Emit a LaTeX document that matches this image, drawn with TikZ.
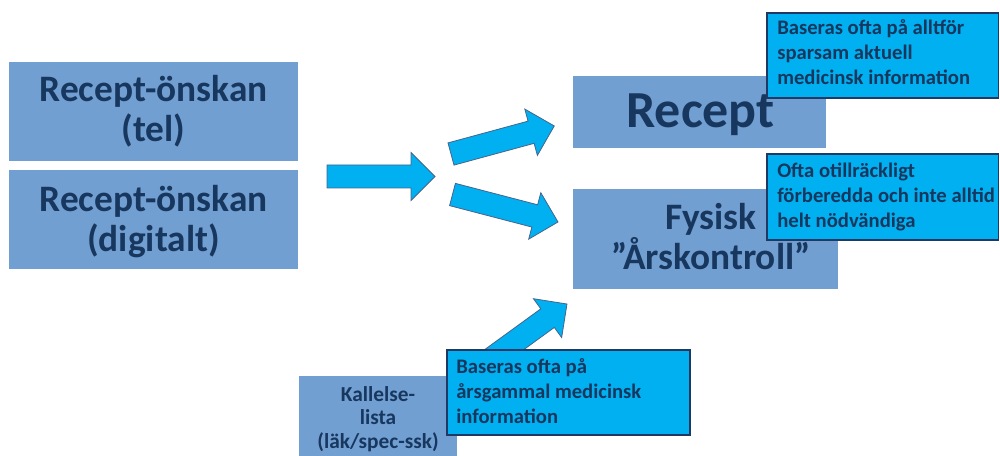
\documentclass[tikz,border=0pt]{standalone}
\usepackage{fontspec}
\setmainfont{Carlito}
\definecolor{boxblue}{RGB}{114,159,210}
\definecolor{cyanfill}{RGB}{0,176,240}
\definecolor{navy}{RGB}{23,55,94}
\definecolor{calloutline}{RGB}{31,56,100}
\definecolor{arrowline}{RGB}{70,100,140}
\tikzset{
  boxtext/.style={text=navy, align=center, inner sep=0pt, anchor=base},
  callout/.style={fill=cyanfill, draw=calloutline, line width=1pt},
  callouttext/.style={text=navy, font=\fontsize{15.5}{18.75}\selectfont\bfseries, align=left, anchor=base west, inner sep=0pt},
  fatarrow/.style={fill=cyanfill, draw=arrowline, line width=0.6pt, line join=miter},
}
\newcommand\blockarrow[4]{%
  \begin{scope}[shift={(#1,#2)}, rotate=#3]
    \draw[fatarrow] (0,-11.5) -- ({#4-24},-11.5) -- ({#4-24},-24) -- (#4,0) -- ({#4-24},24) -- ({#4-24},11.5) -- (0,11.5) -- cycle;
  \end{scope}}
\begin{document}
\begin{tikzpicture}[x=0.75pt,y=-0.75pt]
\useasboundingbox (0,0) rectangle (1000,456);
% left boxes
\fill[boxblue] (9,62) rectangle (298,161);
\node[boxtext, font=\fontsize{28}{30.5}\selectfont\bfseries] (tel) at (153.5,142) {Recept-önskan\\(tel)};
\fill[boxblue] (9,170) rectangle (298,269);
\node[boxtext, font=\fontsize{28}{30.5}\selectfont\bfseries] (dig) at (153.5,252) {Recept-önskan\\(digitalt)};
% right boxes
\fill[boxblue] (573,76) rectangle (826,148);
\node[boxtext, font=\fontsize{39}{44}\selectfont\bfseries] (recept) at (700.5,128) {Recept};
\fill[boxblue] (573,189) rectangle (838,289);
\node[boxtext, font=\fontsize{28}{30.75}\selectfont\bfseries] (fysisk) at (711,270) {Fysisk\\”Årskontroll”};
% kallelse box
\fill[boxblue] (299,376) rectangle (457,460);
\node[boxtext, font=\fontsize{16}{17.6}\selectfont\bfseries] (kall) at (378,448) {Kallelse-\\lista\\(läk/spec-ssk)};
% arrows
\blockarrow{327}{176.5}{0}{108}
\blockarrow{451}{154}{15.2}{107}
\blockarrow{452.5}{194.5}{-14.6}{109}
\blockarrow{479.6}{367.5}{36}{108}
% callouts
\draw[callout] (767,13) rectangle (998.5,98);
\node[callouttext] (c1) at (777,85) {Baseras ofta på alltför\\sparsam aktuell\\medicinsk information};
\draw[callout] (767,154) rectangle (998.5,240);
\node[callouttext] (c2) at (777,228) {Ofta otillräckligt\\förberedda och inte alltid\\helt nödvändiga};
\draw[callout] (447,350) rectangle (690,435);
\node[callouttext] (c3) at (456,423) {Baseras ofta på\\årsgammal medicinsk\\information};
\end{tikzpicture}
\end{document}
